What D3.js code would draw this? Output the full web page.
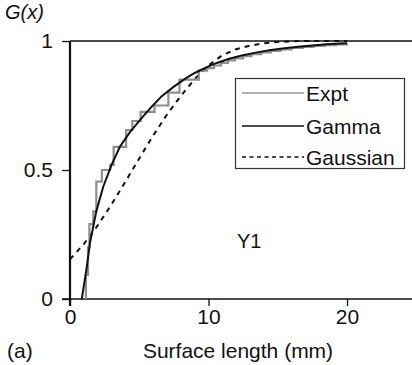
<!DOCTYPE html>
<html>
<head>
<meta charset="utf-8">
<script src="https://cdn.jsdelivr.net/npm/d3@7"></script>
<style>
  html, body { margin: 0; padding: 0; background: #fff; }
  svg { display: block; }
  text { font-family: "Liberation Sans", Arial, Helvetica, sans-serif; fill: #111; }
</style>
</head>
<body>
<svg id="chart" width="412" height="365"></svg>
<script>
// Experimental cumulative distribution (step positions in mm and value after each step)
const exptX = [1.15, 1.15, 1.3, 1.4, 1.68, 1.9, 2.3, 2.9, 3.15, 4.05, 4.5, 5.1, 6.1, 7.1, 7.9, 9.3, 9.9, 10.4, 10.9, 11.4, 11.9, 12.5, 13.1, 13.8, 14.5, 15.2, 16.0, 16.8, 17.6, 18.4, 19.2, 20.0];
const exptG = [0, 0.093, 0.2, 0.29, 0.34, 0.455, 0.50, 0.52, 0.59, 0.655, 0.69, 0.725, 0.75, 0.80, 0.85, 0.885, 0.895, 0.905, 0.915, 0.925, 0.933, 0.941, 0.949, 0.956, 0.962, 0.967, 0.973, 0.977, 0.981, 0.984, 0.987, 0.989];

// Gamma fit
const gammaX = [0.85, 1.2, 1.45, 1.9, 2.4, 3.0, 3.6, 4.3, 5.0, 5.8, 6.6, 7.5, 8.3, 9.0, 9.8, 10.6, 11.5, 12.4, 13.4, 14.5, 15.5, 16.5, 17.5, 18.5, 19.5, 20];
const gammaG = [0, 0.12, 0.22, 0.34, 0.435, 0.52, 0.59, 0.645, 0.69, 0.74, 0.785, 0.823, 0.853, 0.876, 0.897, 0.915, 0.931, 0.944, 0.955, 0.965, 0.972, 0.978, 0.983, 0.987, 0.99, 0.991];

// Gaussian fit
const gaussX = [0, 1, 2, 3, 4, 5, 6, 7, 8, 9, 10, 11, 12, 13, 14, 15, 16, 17, 18, 19, 20];
const gaussG = [0.154, 0.213, 0.285, 0.367, 0.455, 0.545, 0.633, 0.715, 0.787, 0.852, 0.905, 0.945, 0.968, 0.982, 0.991, 0.996, 0.999, 1, 1, 1, 1];

const xTicks = [0, 10, 20];
const yTicks = [0, 0.5, 1];
const yTickLabels = ["0", "0.5", "1"];
const legendNames = ["Expt", "Gamma", "Gaussian"];

const svg = d3.select("#chart");
const x = d3.scaleLinear().domain([0, 25]).range([70, 416.3]);
const y = d3.scaleLinear().domain([0, 1]).range([299, 41]);

const zip = (xs, ys) => xs.map((v, i) => [v, ys[i]]);
const FS = 21;

// top reference line at G = 1
svg.append("line")
  .attr("x1", x(0)).attr("x2", 412)
  .attr("y1", y(1)).attr("y2", y(1))
  .attr("stroke", "#111").attr("stroke-width", 1.3);

// x axis
const xAxis = svg.append("g")
  .attr("transform", `translate(0,${y(0)})`)
  .call(d3.axisBottom(x).tickValues(xTicks).tickSize(7).tickPadding(3).tickSizeOuter(0));
xAxis.select(".domain").attr("stroke", "#111").attr("stroke-width", 1.5)
  .attr("d", `M${x(0) - 8},0H412`);
xAxis.selectAll(".tick line").attr("stroke", "#111").attr("stroke-width", 1.3);
xAxis.selectAll(".tick text").attr("font-size", FS).attr("font-family", null).style("fill", "#111");

// y axis
const yAxis = svg.append("g")
  .attr("transform", `translate(${x(0)},0)`)
  .call(d3.axisLeft(y).tickValues(yTicks).tickFormat((d, i) => yTickLabels[i]).tickSize(8).tickPadding(9).tickSizeOuter(0));
yAxis.select(".domain").attr("stroke", "#111").attr("stroke-width", 2.2)
  .attr("d", `M0,${y(1)}V${y(0) + 7}`);
yAxis.selectAll(".tick line").attr("stroke", "#111").attr("stroke-width", 1.3);
yAxis.selectAll(".tick text").attr("font-size", FS).attr("font-family", null).style("fill", "#111");

// curves
const line = d3.line().x(d => x(d[0])).y(d => y(d[1]));

svg.append("path")
  .datum(zip(gaussX, gaussG))
  .attr("fill", "none").attr("stroke", "#111").attr("stroke-width", 2)
  .attr("stroke-dasharray", "5,5")
  .attr("d", line);

svg.append("path")
  .datum(zip(exptX, exptG))
  .attr("fill", "none").attr("stroke", "#8e8e8e").attr("stroke-width", 2.2)
  .attr("d", d3.line().x(d => x(d[0])).y(d => y(d[1])).curve(d3.curveStepAfter));

svg.append("path")
  .datum(zip(gammaX, gammaG))
  .attr("fill", "none").attr("stroke", "#111").attr("stroke-width", 2)
  .attr("d", line);

// legend
const lg = svg.append("g");
lg.append("rect")
  .attr("x", 235.5).attr("y", 78.5).attr("width", 169).attr("height", 90)
  .attr("fill", "#fff").attr("stroke", "#333").attr("stroke-width", 1.2);
const legendY = [93, 126, 157];
const legendStyle = [
  { stroke: "#999", width: 1.3, dash: null },
  { stroke: "#111", width: 1.5, dash: null },
  { stroke: "#111", width: 1.5, dash: "4,3.5" }
];
legendNames.forEach((name, i) => {
  lg.append("line")
    .attr("x1", 242).attr("x2", 304)
    .attr("y1", legendY[i]).attr("y2", legendY[i])
    .attr("stroke", legendStyle[i].stroke)
    .attr("stroke-width", legendStyle[i].width)
    .attr("stroke-dasharray", legendStyle[i].dash);
  lg.append("text")
    .attr("x", 306).attr("y", legendY[i] + 8)
    .attr("font-size", FS)
    .text(name);
});

// labels
svg.append("text").attr("x", 5).attr("y", 19).attr("font-size", 20)
  .attr("font-style", "italic").text("G(x)");
svg.append("text").attr("x", 237).attr("y", 248).attr("font-size", 20).text("Y1");
svg.append("text").attr("x", 7).attr("y", 358).attr("font-size", FS).text("(a)");
svg.append("text").attr("x", 238).attr("y", 358).attr("font-size", FS)
  .attr("text-anchor", "middle").text("Surface length (mm)");
</script>
</body>
</html>
